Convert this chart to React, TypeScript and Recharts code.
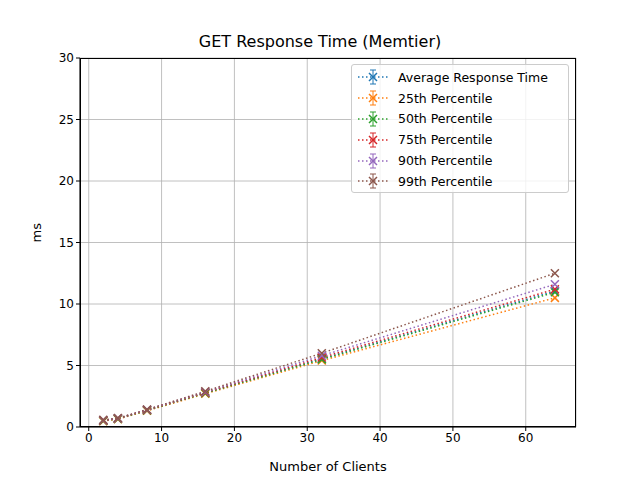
import { LineChart, Line, XAxis, YAxis, CartesianGrid } from 'recharts';

const clients = [2, 4, 8, 16, 32, 64];
const avg = [0.52, 0.68, 1.36, 2.78, 5.55, 11.05];
const p25 = [0.48, 0.64, 1.32, 2.7, 5.4, 10.5];
const p50 = [0.5, 0.66, 1.35, 2.75, 5.5, 10.95];
const p75 = [0.53, 0.69, 1.38, 2.8, 5.65, 11.2];
const p90 = [0.55, 0.7, 1.4, 2.85, 5.8, 11.6];
const p99 = [0.58, 0.72, 1.42, 2.9, 6.0, 12.5];
const xTicks = [0, 10, 20, 30, 40, 50, 60];
const yTicks = [0, 5, 10, 15, 20, 25, 30];

const series = [
  { key: 'avg', name: 'Average Response Time', color: '#1f77b4', values: avg },
  { key: 'p25', name: '25th Percentile', color: '#ff7f0e', values: p25 },
  { key: 'p50', name: '50th Percentile', color: '#2ca02c', values: p50 },
  { key: 'p75', name: '75th Percentile', color: '#d62728', values: p75 },
  { key: 'p90', name: '90th Percentile', color: '#9467bd', values: p90 },
  { key: 'p99', name: '99th Percentile', color: '#8c564b', values: p99 },
];

const data = clients.map((c, i) => {
  const row: Record<string, number> = { clients: c };
  series.forEach((s) => (row[s.key] = s.values[i]));
  return row;
});

const font = 'DejaVu Sans, sans-serif';

const XMark = (color: string) => (props: any) => {
  const { cx, cy } = props;
  if (cx == null || cy == null) return <g />;
  return (
    <path d={`M${cx - 4},${cy - 4}L${cx + 4},${cy + 4}M${cx - 4},${cy + 4}L${cx + 4},${cy - 4}`} stroke={color} strokeWidth={1.5} />
  );
};

const LegendBox = () => (
  <div style={{ position: 'absolute', left: 351, top: 64, width: 218, height: 129, border: '1px solid #ccc', borderRadius: 3, background: 'rgba(255,255,255,0.8)', fontFamily: font, fontSize: 12.5, boxSizing: 'border-box', padding: '2px 6px' }}>
    {series.map((s) => (
      <div key={s.key} style={{ display: 'flex', alignItems: 'center', height: 20.8 }}>
        <svg width={30} height={20} style={{ marginRight: 10 }}>
          <line x1={0} y1={10} x2={30} y2={10} stroke={s.color} strokeWidth={1.5} strokeDasharray="1.5 2.5" />
          <line x1={15} y1={3} x2={15} y2={17} stroke={s.color} strokeWidth={1} />
          <line x1={12} y1={3} x2={18} y2={3} stroke={s.color} strokeWidth={1} />
          <line x1={12} y1={17} x2={18} y2={17} stroke={s.color} strokeWidth={1} />
          <path d="M11,6L19,14M11,14L19,6" stroke={s.color} strokeWidth={1.5} />
        </svg>
        <span>{s.name}</span>
      </div>
    ))}
  </div>
);

export default function App() {
  return (
    <div style={{ position: 'absolute', left: 0, top: 0, width: 640, height: 480, background: '#fff', fontFamily: font }}>
      <div style={{ position: 'absolute', top: 32, width: 640, textAlign: 'center', fontSize: 16 }}>GET Response Time (Memtier)</div>
      <LineChart width={640} height={480} data={data} margin={{ top: 58, right: 64, bottom: 23, left: 32 }}>
        <CartesianGrid stroke="#b0b0b0" strokeWidth={0.8} />
        <XAxis
          dataKey="clients"
          type="number"
          domain={[-1.2, 66.9]}
          ticks={xTicks}
          allowDataOverflow
          height={30}
          stroke="#000"
          tick={{ fill: '#000', fontSize: 12 }}
          tickSize={4}
          label={{ value: 'Number of Clients', position: 'insideBottom', offset: -14, fill: '#000', fontSize: 13 }}
        />
        <YAxis
          type="number"
          domain={[0, 30]}
          ticks={yTicks}
          width={48}
          stroke="#000"
          tick={{ fill: '#000', fontSize: 12 }}
          tickSize={4}
          label={{ value: 'ms', angle: -90, position: 'insideLeft', offset: 4, fill: '#000', fontSize: 13 }}
        />
        {series.map((s) => (
          <Line
            key={s.key}
            dataKey={s.key}
            name={s.name}
            stroke={s.color}
            strokeWidth={1.5}
            strokeDasharray="1.5 2.5"
            dot={XMark(s.color)}
            activeDot={false}
            isAnimationActive={false}
          />
        ))}
      </LineChart>
      <div style={{ position: 'absolute', left: 80, top: 58, width: 496, height: 369, border: '1px solid #000', boxSizing: 'border-box', pointerEvents: 'none' }} />
      <LegendBox />
    </div>
  );
}
